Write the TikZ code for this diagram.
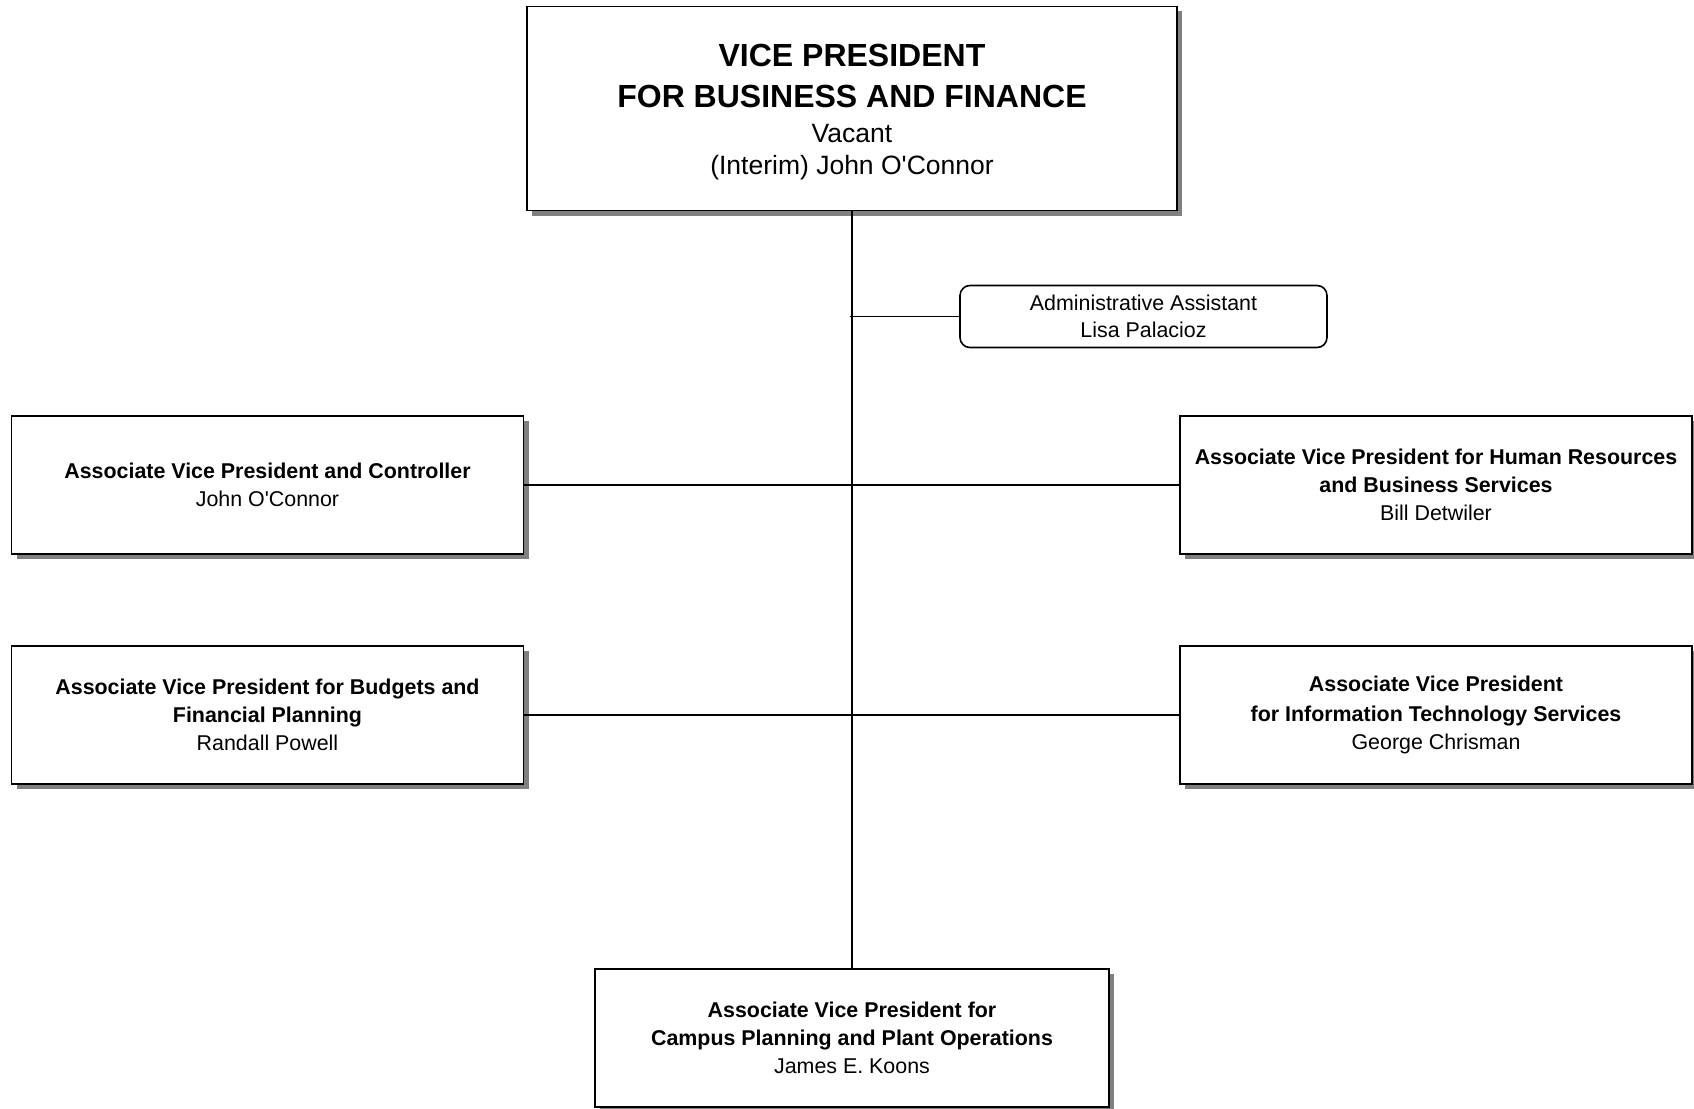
\documentclass[tikz,border=0pt]{standalone}
\usepackage{fontspec}
\newfontfamily\arialfont{Liberation Sans}
\usetikzlibrary{shadows}
\newcommand{\vptitle}{\bfseries\fontsize{32}{32}\selectfont}
\newcommand{\vpname}{\mdseries\fontsize{26.5}{32}\selectfont}
\begin{document}
\begin{tikzpicture}[x=1pt,y=-1pt,
  orgbox/.style={draw=black, line width=1.8pt, fill=white, inner sep=0pt, align=center,
    font=\arialfont\fontsize{21.4}{28}\selectfont,
    drop shadow={shadow xshift=5pt, shadow yshift=-5pt, fill=black!50, opacity=1}},
  subbox/.style={orgbox, minimum width=512pt, minimum height=138pt},
  assistbox/.style={draw=black, line width=1.6pt, fill=white, rounded corners=10pt, inner sep=0pt,
    align=center, minimum width=367pt, minimum height=62pt, font=\arialfont\fontsize{21.4}{27}\selectfont},
  link/.style={line width=1.8pt, draw=black}]
\useasboundingbox (0,0) rectangle (1694,1108);
\node[orgbox, minimum width=650pt, minimum height=204pt, font=\arialfont\fontsize{26.5}{32}\selectfont] (vp) at (852,108.5)
  {\rule{0pt}{29.5pt}\vptitle VICE PRESIDENT\\[9pt]\vptitle FOR BUSINESS AND FINANCE\\[3pt]\vpname Vacant\\\vpname (Interim) John O'Connor};
\node[assistbox] (aa) at (1143.5,316.5) {Administrative Assistant\\Lisa Palacioz};
\node[subbox] (ctrl) at (267.5,485) {\textbf{Associate Vice President and Controller}\\John O'Connor};
\node[subbox] (hr) at (1436,485) {\textbf{Associate Vice President for Human Resources}\\\textbf{and Business Services}\\Bill Detwiler};
\node[subbox] (bud) at (267.5,715) {\textbf{Associate Vice President for Budgets and}\\\textbf{Financial Planning}\\Randall Powell};
\node[subbox] (it) at (1436,715) {\textbf{Associate Vice President}\\[2pt]\textbf{for Information Technology Services}\\George Chrisman};
\node[subbox, minimum width=514pt] (cp) at (852,1038) {\textbf{Associate Vice President for}\\\textbf{Campus Planning and Plant Operations}\\James E. Koons};
\coordinate (aj) at (850,316.5);
\draw[link] (vp.south) -- (cp.north);
\draw[link] (aj) -- (aa.west);
\draw[link] (ctrl.east) -- (hr.west);
\draw[link] (bud.east) -- (it.west);
\end{tikzpicture}
\end{document}
